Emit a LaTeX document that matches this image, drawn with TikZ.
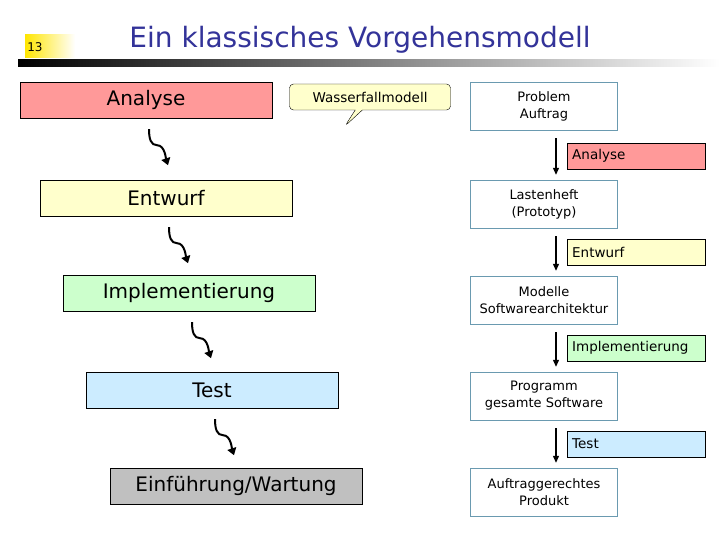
\documentclass[tikz,border=0pt]{standalone}
\usepackage{fontspec}
\setmainfont{DejaVu Sans}
\usetikzlibrary{arrows.meta,shapes.callouts}
\definecolor{navy}{HTML}{333399}
\definecolor{red1}{HTML}{FF9999}
\definecolor{yel1}{HTML}{FFFFCC}
\definecolor{grn1}{HTML}{CCFFCC}
\definecolor{blu1}{HTML}{CCECFF}
\definecolor{gry1}{HTML}{C0C0C0}
\definecolor{frame1}{HTML}{6A9AB0}
\tikzset{
 phase/.style={draw=black,minimum width=252pt,minimum height=36pt,inner sep=0pt,font=\fontsize{20}{24}\selectfont},
 result/.style={draw=frame1,minimum width=147pt,minimum height=48pt,align=center,inner sep=0pt,font=\fontsize{13}{17}\selectfont},
 tag/.style={draw=black,minimum width=138pt,minimum height=26pt,inner sep=5pt,anchor=west,text width=128pt,font=\fontsize{13.5}{15}\selectfont},
 wig/.style={line width=2pt,-{Triangle[length=7pt,width=9pt]}},
 down/.style={line width=1.2pt,-{Triangle[length=7pt,width=6pt]}}
}
\begin{document}
\begin{tikzpicture}[x=1pt,y=-1pt]
\useasboundingbox (0,0) rectangle (720,540);
\fill[white] (0,0) rectangle (720,540);
\shade[left color=yellow!80!orange,right color=white] (25,35) rectangle (75,58);
\node[font=\fontsize{12}{14}\selectfont] (num) at (35,47) {13};
\shade[left color=black,right color=white] (18,60) rectangle (720,67);
\node[text=navy,font=\fontsize{28}{32}\selectfont] (title) at (360,40) {Ein klassisches Vorgehensmodell};
% left
\node[phase,fill=red1] (a) at (146,100) {Analyse};
\node[phase,fill=yel1] (e) at (166,198) {Entwurf};
\node[phase,fill=grn1] (i) at (189,293) {Implementierung};
\node[phase,fill=blu1] (t) at (212,390) {Test};
\node[phase,fill=gry1] (w) at (236,486) {Einführung/Wartung};
\foreach \n/\m in {a/e,e/i,i/t,t/w}{
 \coordinate (s\n) at ([xshift=3pt,yshift=-11pt]\n.south);
 \coordinate (f\n) at ([xshift=22pt,yshift=-47pt]\n.south);
 \draw[wig] (s\n) .. controls ++(0,10) and ++(-6,0) .. ([xshift=-11pt,yshift=20pt]f\n) .. controls ++(8,0) and ++(-2,-6) .. (f\n);
}
\node[rectangle callout,draw,fill=yel1,rounded corners=4pt,minimum width=161pt,minimum height=26pt,
 callout absolute pointer={(345,126)},font=\fontsize{13.5}{15}\selectfont] (wf) at (370,97) {Wasserfallmodell};
% right
\node[result] (r1) at (544,106) {Problem\\Auftrag};
\node[result] (r2) at (544,204) {Lastenheft\\(Prototyp)};
\node[result] (r3) at (544,300) {Modelle\\Softwarearchitektur};
\node[result] (r4) at (544,396) {Programm\\gesamte Software};
\node[result] (r5) at (544,492) {Auftraggerechtes\\Produkt};
\node[tag,fill=red1] (ta) at (567,156) {Analyse};
\node[tag,fill=yel1] (te) at (567,252) {Entwurf};
\node[tag,fill=grn1] (ti) at (567,348) {Implementierung};
\node[tag,fill=blu1] (tt) at (567,444) {Test};
\foreach \p/\q in {r1/r2,r2/r3,r3/r4,r4/r5}{
 \draw[down] ([xshift=12pt,yshift=-8pt]\p.south) -- ([xshift=12pt,yshift=5pt]\q.north);
}
\end{tikzpicture}
\end{document}
